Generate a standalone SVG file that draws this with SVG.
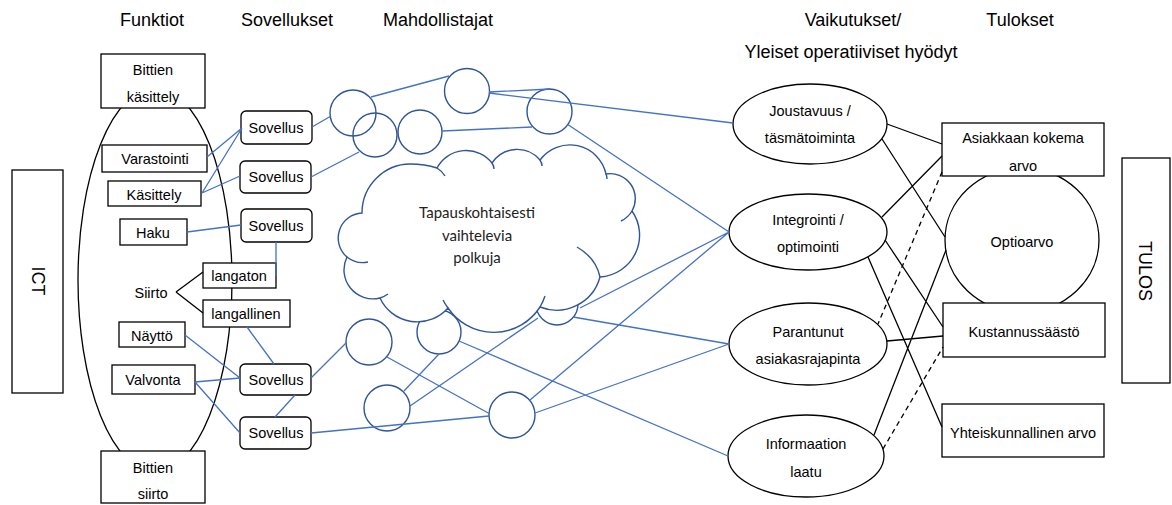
<svg xmlns="http://www.w3.org/2000/svg" width="1172" height="505" viewBox="0 0 1172 505">
  <style>
    .box { fill: #fff; stroke: #000; stroke-width: 1.3; }
    .ell { fill: #fff; stroke: #000; stroke-width: 1.3; }
    .ring { fill: none; stroke: #2F5597; stroke-width: 1.4; }
    .cloud { fill: #fff; stroke: #2F5597; stroke-width: 1.4; }
    .tail { fill: none; stroke: #2F5597; stroke-width: 1.4; }
    .blue { fill: none; stroke: #4472C4; stroke-width: 1.3; }
    .blk { fill: none; stroke: #000; stroke-width: 1.3; }
    .dash { stroke-dasharray: 5 4; }
    .t { font-family: "Liberation Sans", Arial, sans-serif; font-size: 14.5px; text-anchor: middle; fill: #000; }
    .h { font-size: 18px; }
    .v { font-size: 18px; }
    .ct { font-family: Lato, "Open Sans", sans-serif; font-size: 15px; text-anchor: middle; fill: #222; }
  </style>
  <rect width="1172" height="505" fill="#fff"/>

  <!-- column headings -->
  <g id="headings">
    <text class="t h" x="152" y="26">Funktiot</text>
    <text class="t h" x="287" y="26">Sovellukset</text>
    <text class="t h" x="438" y="26">Mahdollistajat</text>
    <text class="t h" x="853" y="26">Vaikutukset/</text>
    <text class="t h" x="851" y="58">Yleiset operatiiviset hyödyt</text>
    <text class="t h" x="1020" y="26">Tulokset</text>
  </g>

  <!-- ICT side bar -->
  <g id="ict">
    <rect class="box" x="12" y="170" width="51" height="223"/>
    <text class="t v" transform="translate(38,281) rotate(90)" x="0" y="6.5">ICT</text>
  </g>

  <!-- functions ellipse -->
  <g id="funktiot">
    <ellipse class="ell" cx="155" cy="280" rx="77" ry="192"/>
  </g>

  <!-- function boxes -->
  <g id="bittien-kasittely">
    <rect class="box" x="101" y="54" width="104" height="54"/>
    <text class="t" x="153" y="75">Bittien</text>
    <text class="t" x="153" y="102">käsittely</text>
  </g>
  <g id="varastointi">
    <rect class="box" x="102" y="145" width="105" height="27"/>
    <text class="t" x="155" y="164">Varastointi</text>
  </g>
  <g id="kasittely">
    <rect class="box" x="108" y="181" width="93" height="25"/>
    <text class="t" x="154" y="200">Käsittely</text>
  </g>
  <g id="haku">
    <rect class="box" x="120" y="219" width="67" height="26"/>
    <text class="t" x="153" y="238">Haku</text>
  </g>
  <g id="siirto">
    <text class="t" x="151" y="298">Siirto</text>
  </g>
  <g id="langaton">
    <rect class="box" x="203" y="263" width="73" height="25"/>
    <text class="t" x="239" y="281">langaton</text>
  </g>
  <g id="langallinen">
    <rect class="box" x="203" y="300" width="87" height="27"/>
    <text class="t" x="246" y="319">langallinen</text>
  </g>
  <g id="naytto">
    <rect class="box" x="119" y="322" width="66" height="25"/>
    <text class="t" x="152" y="341">Näyttö</text>
  </g>
  <g id="valvonta">
    <rect class="box" x="112" y="365" width="83" height="29"/>
    <text class="t" x="153" y="385">Valvonta</text>
  </g>
  <g id="bittien-siirto">
    <rect class="box" x="101" y="451" width="104" height="52"/>
    <text class="t" x="153" y="473">Bittien</text>
    <text class="t" x="153" y="499">siirto</text>
  </g>

  <!-- applications -->
  <g id="sovellus-1">
    <rect class="box" x="241" y="111" width="71" height="33" rx="5"/>
    <text class="t" x="276" y="133">Sovellus</text>
  </g>
  <g id="sovellus-2">
    <rect class="box" x="240" y="161" width="71" height="32" rx="5"/>
    <text class="t" x="276" y="182">Sovellus</text>
  </g>
  <g id="sovellus-3">
    <rect class="box" x="241" y="209" width="71" height="33" rx="5"/>
    <text class="t" x="276" y="231">Sovellus</text>
  </g>
  <g id="sovellus-4">
    <rect class="box" x="240" y="364" width="71" height="31" rx="5"/>
    <text class="t" x="276" y="385">Sovellus</text>
  </g>
  <g id="sovellus-5">
    <rect class="box" x="240" y="417" width="71" height="32" rx="5"/>
    <text class="t" x="276" y="438">Sovellus</text>
  </g>

  <!-- enablers -->
  <g id="enabler-1"><circle class="ring" cx="353" cy="113" r="23"/></g>
  <g id="enabler-2"><circle class="ring" cx="375" cy="135" r="22"/></g>
  <g id="enabler-3"><circle class="ring" cx="420" cy="132" r="22"/></g>
  <g id="enabler-4"><circle class="ring" cx="467" cy="91" r="22.5"/></g>
  <g id="enabler-5"><circle class="ring" cx="549.5" cy="111.5" r="22.5"/></g>
  <g id="enabler-6"><circle class="ring" cx="369" cy="342" r="23"/></g>
  <g id="enabler-7"><circle class="ring" cx="439" cy="332" r="22"/></g>
  <g id="enabler-8"><circle class="ring" cx="387" cy="408" r="23"/></g>
  <g id="enabler-9"><circle class="ring" cx="557" cy="304" r="21"/></g>
  <g id="enabler-10"><circle class="ring" cx="512" cy="415" r="23"/></g>

  <!-- cloud of case-specific paths -->
  <g id="polut">
    <path class="cloud" d="M 362 213 C 362 185, 385 164, 410 164 C 422 164, 431 166, 437 168 A 33 33 0 0 1 492 163 A 30 30 0 0 1 540 160 A 37 37 0 0 1 606 174 A 25 25 0 0 1 632 211 A 42 42 0 0 1 600 277 A 45 45 0 0 1 540 307 A 55 55 0 0 1 448 308 A 41 41 0 0 1 380 298 A 29 29 0 0 1 347 257 A 25 25 0 0 1 362 213 Z"/>
    <path class="tail" d="M 437 168 Q 442 171 445 176 M 492 163 Q 494 166 494 169 M 540 160 Q 542 163 542 166 M 606 174 Q 607 176 607 179 M 632 211 A 25 25 0 0 1 621 221 M 577 247 Q 596 258 600 277 M 347 257 A 25 25 0 0 0 368 262 M 380 298 A 29 29 0 0 0 388 294 M 448 308 A 55 55 0 0 1 443 300 M 540 307 A 55 55 0 0 0 545 296"/>
    <text class="ct" x="477" y="218">Tapauskohtaisesti</text>
    <text class="ct" x="477" y="241">vaihtelevia</text>
    <text class="ct" x="477" y="263">polkuja</text>
  </g>

  <!-- effects -->
  <g id="joustavuus">
    <ellipse class="ell" cx="810" cy="124" rx="77" ry="40"/>
    <text class="t" x="810" y="116">Joustavuus /</text>
    <text class="t" x="810" y="143">täsmätoiminta</text>
  </g>
  <g id="integrointi">
    <ellipse class="ell" cx="808" cy="232" rx="79" ry="38"/>
    <text class="t" x="808" y="225">Integrointi /</text>
    <text class="t" x="808" y="252">optimointi</text>
  </g>
  <g id="parantunut">
    <ellipse class="ell" cx="808" cy="344" rx="79" ry="41"/>
    <text class="t" x="808" y="337">Parantunut</text>
    <text class="t" x="808" y="364">asiakasrajapinta</text>
  </g>
  <g id="informaatio">
    <ellipse class="ell" cx="806" cy="456" rx="78" ry="41"/>
    <text class="t" x="806" y="449">Informaation</text>
    <text class="t" x="806" y="477">laatu</text>
  </g>

  <!-- results -->
  <g id="optioarvo">
    <ellipse class="ell" cx="1022" cy="240" rx="77" ry="72"/>
    <text class="t" x="1022" y="247">Optioarvo</text>
  </g>
  <g id="asiakasarvo">
    <rect class="box" x="942" y="123" width="162" height="53"/>
    <text class="t" x="1023" y="143">Asiakkaan kokema</text>
    <text class="t" x="1023" y="171">arvo</text>
  </g>
  <g id="kustannussaasto">
    <rect class="box" x="943" y="303" width="162" height="54"/>
    <text class="t" x="1024" y="337">Kustannussäästö</text>
  </g>
  <g id="yhteiskunnallinen">
    <rect class="box" x="942" y="404" width="162" height="53"/>
    <text class="t" x="1023" y="438">Yhteiskunnallinen arvo</text>
  </g>
  <g id="tulos">
    <rect class="box" x="1122" y="158" width="48" height="225"/>
    <text class="t v" transform="translate(1145,271) rotate(90)" x="0" y="6.5">TULOS</text>
  </g>

  <!-- connectors -->
  <g id="connectors">
    <path class="blk" d="M 176 292 L 203 272 M 176 292 L 203 313"/>
    <path class="blue" d="
      M 207 157 L 242 128
      M 202 193 L 242 128
      M 202 193 L 240 176
      M 187 232 L 241 225
      M 276 242 L 276 276
      M 247 327 L 274 364
      M 185 335 L 240 378
      M 195 382 L 240 378
      M 195 382 L 240 433
      M 295 395 L 275 417
      M 312 127 L 331 116
      M 311 177 L 359 152
      M 371 97 L 449 76
      M 489 92 L 550 89
      M 489 93 L 733 123
      M 442 131 L 532 127
      M 567 124 L 729 232
      M 580 308 L 729 232
      M 573 317 L 729 344
      M 459 341 L 728 456
      M 439 354 L 404 391
      M 410 406 L 538 318
      M 311 378 L 346 343
      M 387 357 L 490 414
      M 311 433 L 489 416
      M 530 400 L 729 232
      M 535 413 L 729 344"/>
    <path class="blk" d="
      M 887 124 L 942 144
      M 882 139 L 945 237
      M 882 217 L 942 156
      M 885 240 L 943 327
      M 868 257 L 942 427
      M 887 341 L 943 336
      M 874 435 L 946 250"/>
    <path class="blk dash" d="M 942 172 L 878 324 M 883 449 L 943 347"/>
  </g>
</svg>
